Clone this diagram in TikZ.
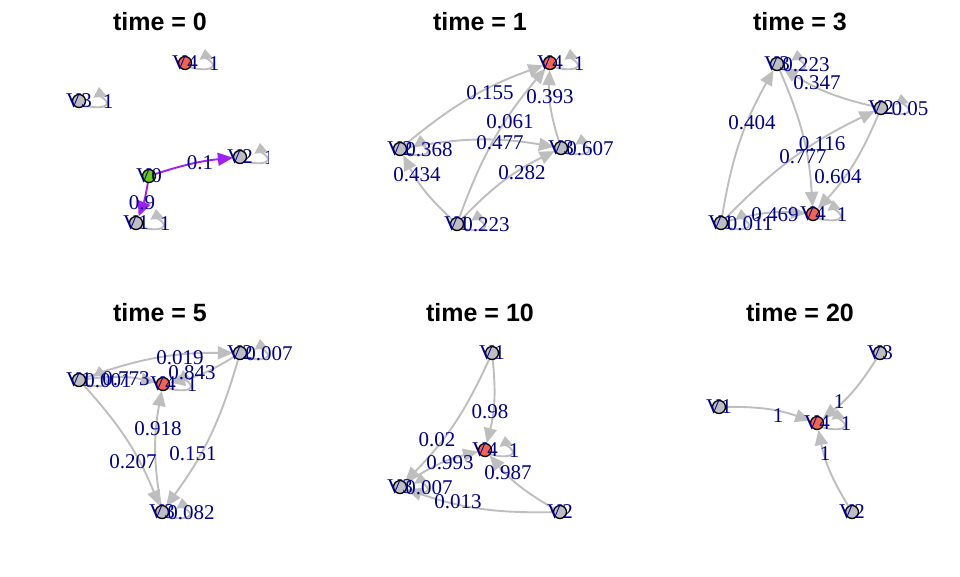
\documentclass[tikz,border=0pt]{standalone}
\usepackage{fontspec}
\setmainfont{Liberation Serif}
\newfontfamily\titlefont{Liberation Sans}
\usetikzlibrary{arrows.meta}
\pgfdeclarelayer{bg}
\pgfdeclarelayer{edges}
\pgfsetlayers{bg,edges,main}
\definecolor{vgray}{HTML}{BEBEBE}
\definecolor{egray}{HTML}{BEBEBE}
\definecolor{vtomato}{HTML}{F4644C}
\definecolor{vgreenc}{HTML}{66CD00}
\definecolor{epurple}{HTML}{A020F0}
\definecolor{lblue}{HTML}{00008B}
\tikzset{
  vert/.style={circle, draw=black, line width=1.3pt, minimum size=13pt, inner sep=0pt, fill=vgray},
  vertred/.style={vert, fill=vtomato},
  vertgreen/.style={vert, fill=vgreenc},
  vlabel/.style={font=\fontsize{21}{21}\selectfont, text=lblue, inner sep=0pt},
  elabel/.style={font=\fontsize{21}{21}\selectfont, text=lblue, inner sep=0pt},
  link/.style={draw=egray, line width=1.9pt, -{Triangle[length=15pt,width=13pt]}, bend left=10},
  purplelink/.style={link, draw=epurple},
  loopline/.style={draw=egray, line width=1.9pt, -{Triangle[length=10pt,width=13pt]}},
  vloop/.pic={\draw[loopline] (4,-4) .. controls (22,-9) and (31,-5) .. (27,0) .. controls (25,3) and (21,5) .. (20,14);},
  ptitle/.style={font=\titlefont\bfseries\fontsize{25}{25}\selectfont, inner sep=0pt}
}
\begin{document}
\begin{tikzpicture}[x=1pt,y=1pt]
\begin{pgfonlayer}{bg}
\fill[white] (0,0) rectangle (960,-576);
\end{pgfonlayer}
\useasboundingbox (0,0) rectangle (960,-576);
% titles
\node[ptitle] (t0) at (160,-22) {time = 0};
\node[ptitle] (t1) at (480,-22) {time = 1};
\node[ptitle] (t3) at (800,-22) {time = 3};
\node[ptitle] (t5) at (160,-313) {time = 5};
\node[ptitle] (t10) at (480,-313) {time = 10};
\node[ptitle] (t20) at (800,-313) {time = 20};
% ---------- panel time = 0
\node[vertred] (a4) at (185,-63) {};
\node[vert] (a3) at (79,-101) {};
\node[vert] (a2) at (240,-157) {};
\node[vertgreen] (a0) at (149,-176) {};
\node[vert] (a1) at (136,-223) {};
% ---------- panel time = 1
\node[vertred] (b4) at (550,-63) {};
\node[vert] (b2) at (400,-149) {};
\node[vert] (b3) at (561,-148) {};
\node[vert] (b1) at (457,-224) {};
% ---------- panel time = 3
\node[vert] (c3) at (777,-64) {};
\node[vert] (c2) at (881,-108) {};
\node[vert] (c1) at (721,-223) {};
\node[vertred] (c4) at (813,-214) {};
% ---------- panel time = 5
\node[vert] (d1) at (79,-380) {};
\node[vertred] (d4) at (163,-384) {};
\node[vert] (d2) at (240,-353) {};
\node[vert] (d3) at (162,-512) {};
% ---------- panel time = 10
\node[vert] (e1) at (492,-353) {};
\node[vertred] (e4) at (485,-450) {};
\node[vert] (e3) at (400,-487) {};
\node[vert] (e2) at (560,-512) {};
% ---------- panel time = 20
\node[vert] (f3) at (880,-353) {};
\node[vert] (f1) at (719,-407) {};
\node[vertred] (f4) at (817,-423) {};
\node[vert] (f2) at (852,-512) {};
\begin{pgfonlayer}{edges}
  % time 0
  \draw[purplelink, bend left=6] (a0) to (a2);
  \draw[purplelink, bend left=6] (a0) to (a1);
  \pic at (a4) {vloop};
  \pic at (a3) {vloop};
  \pic at (a1) {vloop};
  \begin{scope}
    \clip (0,0) rectangle (268,-300);
    \pic at (a2) {vloop};
  \end{scope}
  % time 1
  \draw[link] (b2) to (b4);
  \draw[link] (b3) to (b4);
  \draw[link] (b1) to (b4);
  \draw[link] (b2) to (b3);
  \draw[link] (b1) to (b3);
  \draw[link] (b1) to (b2);
  \pic at (b4) {vloop};
  \pic at (b2) {vloop};
  \pic at (b3) {vloop};
  \pic at (b1) {vloop};
  % time 3
  \draw[link] (c1) to (c3);
  \draw[link] (c2) to (c3);
  \draw[link] (c1) to (c2);
  \draw[link] (c3) to (c4);
  \draw[link] (c2) to (c4);
  \draw[link] (c1) to (c4);
  \pic at (c3) {vloop};
  \pic at (c2) {vloop};
  \pic at (c1) {vloop};
  \pic at (c4) {vloop};
  % time 5
  \draw[link] (d1) to (d2);
  \draw[link] (d2) to (d4);
  \draw[link] (d1) to (d4);
  \draw[link] (d1) to (d3);
  \draw[link] (d2) to (d3);
  \draw[link] (d3) to (d4);
  \pic at (d1) {vloop};
  \pic at (d4) {vloop};
  \pic at (d2) {vloop};
  \pic at (d3) {vloop};
  % time 10
  \draw[link] (e1) to (e4);
  \draw[link] (e1) to (e3);
  \draw[link] (e3) to (e4);
  \draw[link] (e2) to (e4);
  \draw[link] (e2) to (e3);
  \pic at (e4) {vloop};
  \pic at (e3) {vloop};
  % time 20
  \draw[link] (f1) to (f4);
  \draw[link] (f3) to (f4);
  \draw[link] (f2) to (f4);
  \pic at (f4) {vloop};
\end{pgfonlayer}
% vertex labels
\foreach \v/\t in {a4/V4,a3/V3,a2/V2,a0/V0,a1/V1,b4/V4,b2/V2,b3/V3,b1/V1,c3/V3,c2/V2,c1/V1,c4/V4,d1/V1,d4/V4,d2/V2,d3/V3,e1/V1,e4/V4,e3/V3,e2/V2,f3/V3,f1/V1,f4/V4,f2/V2}
  \node[vlabel] at (\v) {\t};
% loop labels
\foreach \v/\t in {a4/1,a3/1,a1/1,b4/1,b2/0.368,b3/0.607,b1/0.223,c3/0.223,c2/0.05,c1/0.011,c4/1,d1/0.001,d4/1,d2/0.007,d3/0.082,e4/1,e3/0.007,f4/1}
  \node[elabel] at ([shift={(29,-1)}]\v) {\t};
\begin{scope}
  \clip (0,0) rectangle (268,-300);
  \node[elabel] at ([shift={(29,-1)}]a2) {1};
\end{scope}
% edge labels
\node[elabel] (la1) at (200,-163) {0.1};
\node[elabel] (la2) at (142,-203) {0.9};
\node[elabel] (lb1) at (490,-93) {0.155};
\node[elabel] (lb2) at (550,-97) {0.393};
\node[elabel] (lb3) at (510,-122) {0.061};
\node[elabel] (lb4) at (500,-143) {0.477};
\node[elabel] (lb5) at (522,-173) {0.282};
\node[elabel] (lb6) at (417,-175) {0.434};
\node[elabel] (lc1) at (752,-123) {0.404};
\node[elabel] (lc2) at (817,-83) {0.347};
\node[elabel] (lc3) at (822,-144) {0.116};
\node[elabel] (lc4) at (803,-157) {0.777};
\node[elabel] (lc5) at (838,-177) {0.604};
\node[elabel] (lc6) at (775,-215) {0.469};
\node[elabel] (ld1) at (180,-358) {0.019};
\node[elabel] (ld2) at (192,-373) {0.843};
\node[elabel] (ld3) at (126,-379) {0.773};
\node[elabel] (ld4) at (133,-462) {0.207};
\node[elabel] (ld5) at (193,-454) {0.151};
\node[elabel] (ld6) at (158,-429) {0.918};
\node[elabel] (le1) at (490,-412) {0.98};
\node[elabel] (le2) at (437,-440) {0.02};
\node[elabel] (le3) at (450,-463) {0.993};
\node[elabel] (le4) at (508,-473) {0.987};
\node[elabel] (le5) at (458,-502) {0.013};
\node[elabel] (lf1) at (778,-416) {1};
\node[elabel] (lf2) at (839,-402) {1};
\node[elabel] (lf3) at (825,-454) {1};
\end{tikzpicture}
\end{document}
